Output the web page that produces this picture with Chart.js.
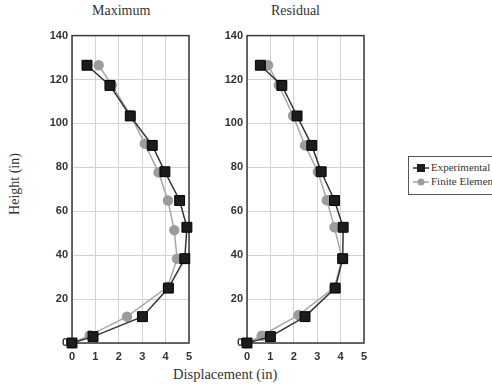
<!DOCTYPE html>
<html>
<head>
<meta charset="utf-8">
<script src="https://cdn.jsdelivr.net/npm/chart.js@4/dist/chart.umd.min.js"></script>
<style>
    body { margin: 0; background: #fff; }
    #wrap { position: relative; width: 492px; height: 385px; overflow: hidden; font-family: "Liberation Serif", serif; color: #333; }
    .box { position: absolute; }
    .lbl { position: absolute; font-size: 14px; white-space: nowrap; }
    .legend { position: absolute; left: 408px; top: 156px; width: 100px; height: 37px; border: 1.5px solid #555; font-size: 11px; }
    .legend div { position: absolute; left: 22px; }
</style>
</head>
<body>
<div id="wrap">
    <div class="lbl" style="left:92px; top:3px;">Maximum</div>
    <div class="lbl" style="left:271px; top:3px;">Residual</div>
    <div class="lbl" style="left:173px; top:366px; font-size:14.5px;">Displacement (in)</div>
    <div class="lbl" style="left:-19px; top:176px; transform: rotate(-90deg); transform-origin: 50% 50%; width:68px; text-align:center;">Height (in)</div>

    <div class="box" style="left:40px; top:25px; width:160px; height:345px;"><canvas id="maxChart"></canvas></div>
    <div class="box" style="left:215px; top:25px; width:160px; height:345px;"><canvas id="resChart"></canvas></div>

    <div class="legend">
        <canvas id="legendMarks" width="20" height="37" style="position:absolute; left:2px; top:0;"></canvas>
        <div style="top:4px;">Experimental</div>
        <div style="top:18px;">Finite Element</div>
    </div>
</div>

<script>
// Heights of the measurement points (in)
const heights = [126.5, 117.3, 103.4, 90, 78, 64.9, 52.7, 38.4, 25, 12, 2.9, 0];

// Maximum displacement (in)
const maxExperimental = [0.64, 1.62, 2.49, 3.43, 3.97, 4.60, 4.91, 4.82, 4.12, 3.01, 0.90, 0];
const maxFiniteElement = [1.14, 1.70, 2.50, 3.11, 3.70, 4.10, 4.37, 4.49, 4.09, 2.35, 0.76, 0];
const maxFeHeights = [126.5, 117.5, 103.8, 90.8, 77.7, 64.9, 51.4, 38.4, 25.6, 12, 3.5, 0];

// Residual displacement (in)
const resExperimental = [0.57, 1.49, 2.14, 2.77, 3.17, 3.74, 4.11, 4.09, 3.77, 2.48, 1.0, 0];
const resFiniteElement = [0.90, 1.36, 1.97, 2.48, 3.03, 3.41, 3.74, 4.06, 3.74, 2.20, 0.63, 0];
const resFeHeights = [126.5, 117.5, 103.5, 90, 78, 65, 52.7, 38.4, 25.3, 12.7, 3.3, 0];

const xTicks = [0, 1, 2, 3, 4, 5];
const yTicks = [0, 20, 40, 60, 80, 100, 120, 140];

const expColor = '#1c1c1c';
const feColor = '#9c9c9c';

function toPoints(xs, ys) {
    return xs.map((x, i) => ({ x: x, y: ys[i] }));
}

// dark frame round the plot area
const framePlugin = {
    id: 'frame',
    beforeDatasetsDraw(chart) {
        const a = chart.chartArea;
        const ctx = chart.ctx;
        ctx.save();
        ctx.strokeStyle = '#3a3a3a';
        ctx.lineWidth = 1.5;
        ctx.strokeRect(a.left, a.top, a.right - a.left, a.bottom - a.top);
        ctx.restore();
    }
};

function makeChart(id, expX, feX, feY) {
    const ctx = document.getElementById(id).getContext('2d');
    return new Chart(ctx, {
        type: 'line',
        data: {
            datasets: [{
                label: 'Experimental',
                data: toPoints(expX, heights),
                borderColor: '#333',
                backgroundColor: expColor,
                pointBorderColor: '#000',
                pointStyle: 'rect',
                pointRadius: 7,
                borderWidth: 1.5,
                pointBorderWidth: 1,
                tension: 0,
                clip: false
            }, {
                label: 'Finite Element',
                data: toPoints(feX, feY),
                borderColor: '#a8a8a8',
                backgroundColor: feColor,
                pointBorderColor: feColor,
                pointStyle: 'circle',
                pointRadius: 4.5,
                borderWidth: 1.5,
                tension: 0,
                clip: false
            }]
        },
        options: {
            responsive: true,
            maintainAspectRatio: false,
            animation: false,
            layout: { padding: { top: 8, right: 11, bottom: 7, left: 0 } },
            plugins: {
                legend: { display: false },
                tooltip: { enabled: false }
            },
            scales: {
                x: {
                    type: 'linear',
                    min: 0,
                    max: 5,
                    afterFit(scale) { scale.height = 20; },
                    afterBuildTicks(scale) { scale.ticks = xTicks.map(v => ({ value: v })); },
                    grid: { color: '#d2d2d2', lineWidth: 1, drawTicks: false },
                    border: { display: false },
                    ticks: {
                        padding: 7,
                        color: '#333',
                        font: { family: 'Liberation Sans', size: 11, weight: 'bold' }
                    }
                },
                y: {
                    type: 'linear',
                    min: 0,
                    max: 140,
                    afterFit(scale) { scale.width = 32; },
                    afterBuildTicks(scale) { scale.ticks = yTicks.map(v => ({ value: v })); },
                    grid: { color: '#d2d2d2', lineWidth: 1, drawTicks: false },
                    border: { display: false },
                    ticks: {
                        padding: 4,
                        color: '#333',
                        font: { family: 'Liberation Sans', size: 11, weight: 'bold' }
                    }
                }
            }
        },
        plugins: [framePlugin]
    });
}

makeChart('maxChart', maxExperimental, maxFiniteElement, maxFeHeights);
makeChart('resChart', resExperimental, resFiniteElement, resFeHeights);

// legend marks: line with square / circle
const lg = document.getElementById('legendMarks').getContext('2d');
lg.lineWidth = 1.5;
lg.strokeStyle = '#333';
lg.beginPath(); lg.moveTo(2, 11); lg.lineTo(18, 11); lg.stroke();
lg.fillStyle = expColor;
lg.fillRect(6, 7, 8, 8);
lg.strokeStyle = '#a8a8a8';
lg.beginPath(); lg.moveTo(2, 25); lg.lineTo(18, 25); lg.stroke();
lg.fillStyle = feColor;
lg.beginPath(); lg.arc(10, 25, 3.5, 0, Math.PI * 2); lg.fill();
</script>
</body>
</html>
